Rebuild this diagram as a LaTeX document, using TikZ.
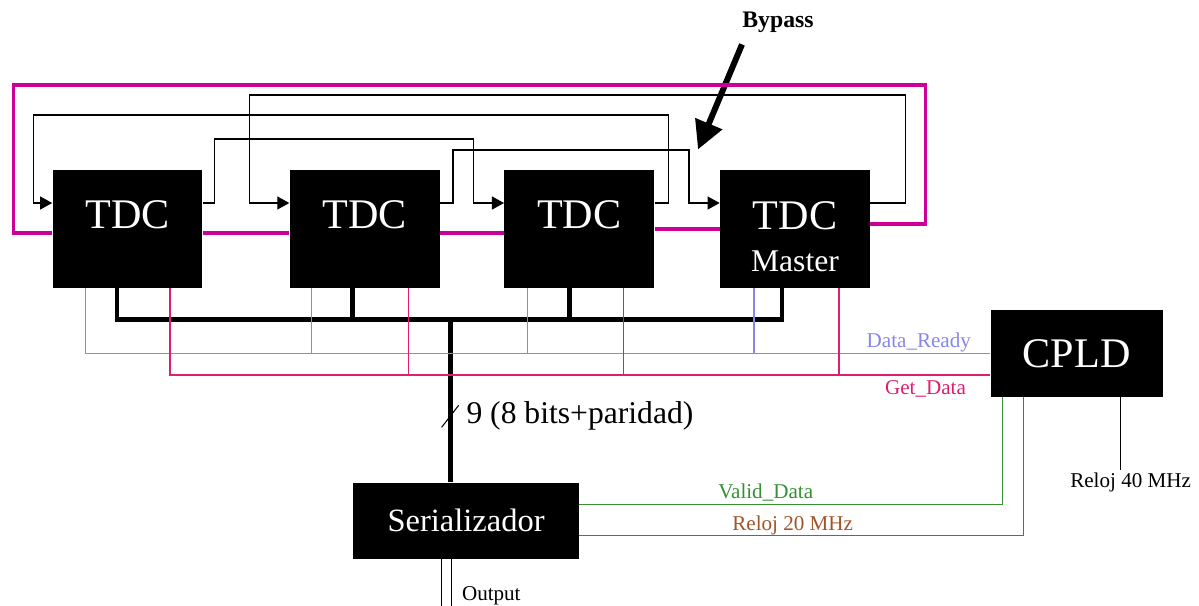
\documentclass[tikz,border=0pt]{standalone}
\usepackage{fontspec}
\setmainfont{Liberation Serif}
\usetikzlibrary{arrows.meta,positioning}
\usepackage{xcolor}
\definecolor{ringcolor}{RGB}{204,0,153}
\definecolor{readycolor}{RGB}{135,135,235}
\definecolor{getcolor}{RGB}{222,30,112}
\definecolor{validcolor}{RGB}{51,145,51}
\definecolor{clockcolor}{RGB}{160,85,40}

\begin{document}
\begin{tikzpicture}[
    x=0.02cm, y=-0.02cm,
    every node/.style={font=\fontsize{12}{14}\selectfont},
    block/.style={rectangle, fill=black, text=white, inner sep=0pt},
    tdcbox/.style={block, minimum width=3.0cm, minimum height=2.36cm, font=\fontsize{24}{24}\selectfont},
    tdc/.style={tdcbox, text height=0.56cm, text depth=0.58cm},
    signal/.style={-{Triangle[length=0.24cm,width=0.26cm]}, line width=0.6pt},
    ring/.style={draw=ringcolor, line width=1.9pt},
    bus/.style={line width=2.5pt},
    ready/.style={draw=readycolor, line width=0.6pt},
    getdata/.style={draw=getcolor, line width=0.6pt},
    valid/.style={draw=validcolor, line width=0.6pt},
    clock/.style={draw=clockcolor, line width=0.6pt}
]
\useasboundingbox (0,0) rectangle (1199,605);

% TDC chain
\node[tdc] (t1) at (127.5,229) {TDC};
\node[tdc, right=1.73cm of t1] (t2) {TDC};
\node[tdc, right=1.28cm of t2] (t3) {TDC};
\node[tdcbox, align=center, right=1.3cm of t3] (tm) {\rule{0pt}{0.88cm}TDC\\{\fontsize{18}{18}\selectfont Master}};

% CPLD (right)
\node[block, minimum width=3.44cm, minimum height=1.74cm, font=\fontsize{24}{24}\selectfont, right=2.4cm of tm, yshift=-2.49cm] (cpld) {CPLD};

% Serializer (bottom)
\node[block, minimum width=4.52cm, minimum height=1.52cm, font=\fontsize{18.5}{20}\selectfont, below=3.88cm of t2, xshift=2.03cm] (ser) {Serializador};

% Bypass note
\node[font=\bfseries\fontsize{13.5}{15}\selectfont, inner sep=1pt] (bypass) at (778,22) {Bypass};
\draw[line width=3.4pt, -{Triangle[length=0.56cm, width=0.56cm]}] ([xshift=-.72cm, yshift=-.2cm]bypass.south) -- ++(-44,105);

% Feedback between TDCs
\draw[signal] ([yshift=.52cm]t1.east) -- ++(12,0) -- ++(0,-64) -| ++(259,64) -- ([yshift=.52cm]t3.west);
\draw[signal] ([yshift=.52cm]t2.east) -- ++(13,0) -- ++(0,-53) -| ++(236,53) -- ([yshift=.52cm]tm.west);
\draw[signal] ([yshift=.52cm]t3.east) -- ++(14,0) -- ++(0,-88) -| ++(-635,88) -- ([yshift=.52cm]t1.west);
\draw[signal] ([yshift=.52cm]tm.east) -- ++(35,0) -- ++(0,-108) -| ++(-656,108) -- ([yshift=.52cm]t2.west);

% Ring
\draw[ring] ([yshift=-.08cm]t1.east) -- ([yshift=-.08cm]t2.west);
\draw[ring] ([yshift=-.08cm]t2.east) -- ([yshift=-.08cm]t3.west);
\draw[ring] (t3.east) -- (tm.west);
\draw[ring] ([yshift=.1cm]tm.east) -- ++(55,0) -- ++(0,-139) -- ++(-912,0) |- ([yshift=-.08cm]t1.west);

% Data bus
\draw[bus] ([xshift=-.21cm]t1.south) -- ++(0,31) -| ([xshift=-.26cm]tm.south);
\draw[bus] ([xshift=-.24cm]t2.south) -- ++(0,31);
\draw[bus] ([xshift=-.2cm]t3.south) -- ++(0,31);
\draw[bus, line width=2.8pt] ([xshift=-.31cm]ser.north) -- ++(0,-163);
\draw[line width=0.6pt] ([xshift=-.31cm]ser.north) ++(-9,-55) -- ++(17,-22) node[midway, anchor=west, xshift=.2cm, font=\fontsize{18}{20}\selectfont] {9 (8 bits+paridad)};

% Handshake lines to CPLD
\draw[ready] ([xshift=-.84cm]t1.south) |- node[pos=1, anchor=base east, xshift=-.26cm, yshift=.12cm, text=readycolor] {Data\_Ready} (cpld.west);
\draw[ready] ([xshift=-1.06cm]t2.south) -- ++(0,65);
\draw[ready] ([xshift=-1.04cm]t3.south) -- ++(0,65);
\draw[ready] ([xshift=-.82cm]tm.south) -- ++(0,65);

\draw[getdata] ([xshift=.85cm]t1.south) |- node[pos=1, anchor=base east, xshift=-.36cm, yshift=-.4cm, text=getcolor] {Get\_Data} ([yshift=-.43cm]cpld.west);
\draw[getdata] ([xshift=.87cm]t2.south) -- ++(0,87);
\draw[getdata] ([xshift=.88cm]t3.south) -- ++(0,87);
\draw[getdata] ([xshift=.88cm]tm.south) -- ++(0,87);

% CPLD to serializer
\draw[valid] ([xshift=-1.48cm]cpld.south) |- node[pos=.78, anchor=base, yshift=.12cm, text=validcolor] {Valid\_Data} ([yshift=.32cm]ser.east);
\draw[clock] ([xshift=-1.06cm]cpld.south) |- node[pos=.76, anchor=base, yshift=.1cm, text=clockcolor] {Reloj 20 MHz} ([yshift=-.3cm]ser.east);
\draw[line width=0.6pt] ([xshift=.88cm]cpld.south) -- ++(0,73) node[anchor=base, xshift=.2cm, yshift=-.34cm] {Reloj 40 MHz};

% Output
\draw[double, double distance=0.17cm, line width=0.6pt] ([xshift=-.39cm]ser.south) -- ++(0,47) node[pos=.89, anchor=base west, xshift=.18cm] {Output};

\end{tikzpicture}
\end{document}
